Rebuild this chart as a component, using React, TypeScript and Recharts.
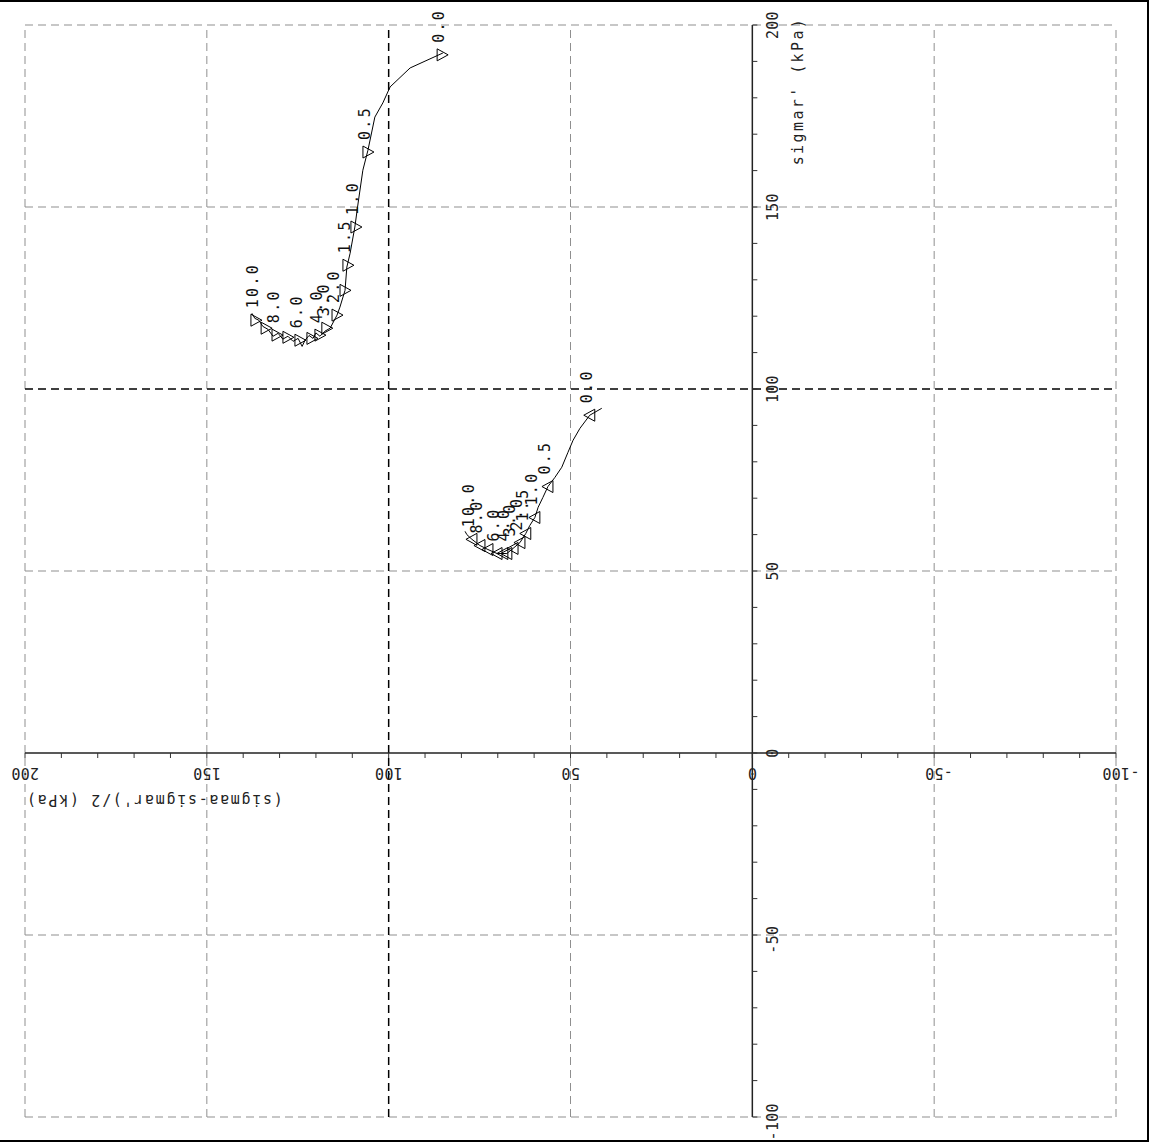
import { ScatterChart, Scatter, XAxis, YAxis, ReferenceLine, ReferenceDot } from 'recharts'

// grid + axis values
const GRID = [200, 150, 50, -50, -100]
const BOLD = [100]
const MINOR = [-100, -90, -80, -70, -60, -50, -40, -30, -20, -10, 0, 10, 20, 30, 40, 50, 60, 70, 80, 90, 100, 110, 120, 130, 140, 150, 160, 170, 180, 190, 200]
const LABELED = [200, 150, 100, 50, 0, -50, -100]

// upper path (triangles pointing right)
const s1X = [85.1, 94.1, 99.6, 101.6, 103.8, 105.7, 107.1, 108.4, 109.3, 110.6, 111.5, 112.0, 113.4, 114.2, 116.1, 117.5, 118.9, 120.0, 120.8, 121.9, 123.0, 123.8, 124.9, 126.3, 127.7, 129.1, 130.4, 131.8, 133.2, 134.6, 135.7, 136.8, 137.6]
const s1Y = [192.3, 188.2, 183.0, 178.6, 174.7, 165.6, 160.1, 151.1, 144.5, 137.3, 133.5, 127.1, 122.5, 120.3, 116.7, 115.9, 114.5, 115.4, 113.9, 114.7, 113.4, 111.7, 113.9, 113.1, 114.5, 113.7, 115.3, 114.5, 116.4, 117.2, 118.9, 119.4, 120.8]
const s1MarkX = [85.3, 105.7, 109.0, 111.2, 112.0, 114.2, 117.0, 118.9, 121.1, 124.4, 127.7, 130.7, 133.7, 136.5]
const s1MarkY = [191.8, 165.1, 144.5, 134.0, 127.1, 120.3, 116.7, 114.8, 113.9, 113.4, 114.2, 114.8, 116.7, 118.9]
const s1Labels = ['0.0', '0.5', '1.0', '1.5', '', '2.0', '3.0', '4.0', '', '6.0', '', '8.0', '', '10.0']

// lower path (triangles pointing left)
const s2X = [41.4, 44.7, 47.4, 49.3, 50.7, 52.4, 54.3, 56.2, 57.6, 58.9, 59.8, 61.2, 62.3, 63.9, 65.8, 67.5, 70.2, 72.7, 74.9, 77.1, 78.5, 79.0]
const s2Y = [94.7, 92.8, 89.2, 85.9, 82.6, 78.5, 75.7, 73.2, 70.2, 67.5, 64.7, 62.5, 60.3, 57.8, 56.2, 54.8, 54.8, 55.9, 57.0, 58.7, 60.0, 60.9]
const s2MarkX = [44.7, 56.2, 59.8, 62.3, 63.9, 65.8, 67.5, 68.6, 70.2, 72.7, 74.9, 77.1]
const s2MarkY = [92.8, 73.2, 64.7, 60.3, 57.8, 56.2, 54.8, 54.8, 54.8, 55.9, 57.0, 58.7]
const s2Labels = ['0.0', '0.5', '1.0', '1.5', '2.0', '3.0', '4.0', '', '6.0', '', '8.0', '10.0']

const FONT = "'DejaVu Sans Mono', monospace"
const FS = 15
const ADV = 9.3

const zip = (xs: number[], ys: number[], labels?: string[]) =>
  xs.map((x, i) => ({ x, y: ys[i], label: labels ? labels[i] : '' }))

const line1 = zip(s1X, s1Y)
const line2 = zip(s2X, s2Y)
const marks1 = zip(s1MarkX, s1MarkY, s1Labels)
const marks2 = zip(s2MarkX, s2MarkY, s2Labels)

function digitsOf(v: number) {
  return String(Math.abs(v)).length
}

function XTickMark({ cx, cy, v }: { cx: number; cy: number; v: number }) {
  const labeled = LABELED.includes(v)
  const w = digitsOf(v) * ADV
  const ax = cx - w / 2
  const ay = cy + 20
  return (
    <g>
      <line x1={cx} y1={cy} x2={cx} y2={cy + 5} stroke="#333" strokeWidth={1} />
      {labeled && (
        <text x={ax} y={ay} transform={`rotate(180 ${ax} ${ay})`} textAnchor="end" dominantBaseline="central"
          fontFamily={FONT} fontSize={FS} letterSpacing={0.3} fill="#222">{String(v)}</text>
      )}
    </g>
  )
}

function YTickMark({ cx, cy, v }: { cx: number; cy: number; v: number }) {
  const labeled = LABELED.includes(v)
  const w = digitsOf(v) * ADV
  const ax = cx + 21
  const ay = cy - w / 2
  return (
    <g>
      <line x1={cx} y1={cy} x2={cx + 5} y2={cy} stroke="#333" strokeWidth={1} />
      {labeled && (
        <text x={ax} y={ay} transform={`rotate(-90 ${ax} ${ay})`} textAnchor="end" dominantBaseline="central"
          fontFamily={FONT} fontSize={FS} letterSpacing={0.3} fill="#222">{String(v)}</text>
      )}
    </g>
  )
}

function Marker({ cx, cy, payload, dir }: any) {
  const d = dir === 'right'
    ? `M${cx - 5},${cy - 6} L${cx + 6},${cy} L${cx - 5},${cy + 6} Z`
    : `M${cx + 5},${cy - 6} L${cx - 6},${cy} L${cx + 5},${cy + 6} Z`
  const ax = cx - 3
  const ay = cy - 12
  return (
    <g>
      <path d={d} fill="none" stroke="#000" strokeWidth={1} />
      {payload.label && (
        <text x={ax} y={ay} transform={`rotate(-90 ${ax} ${ay})`} textAnchor="start" dominantBaseline="central"
          fontFamily={FONT} fontSize={FS} letterSpacing={2.3} fill="#111">{payload.label}</text>
      )}
    </g>
  )
}

export default function App() {
  return (
    <div style={{ position: 'absolute', left: 0, top: 0, width: 1149, height: 1142, boxSizing: 'border-box', borderTop: '2px solid #000', borderRight: '2px solid #000', borderBottom: '2px solid #000', background: '#fff' }}>
      <div style={{ position: 'absolute', left: 0, top: -2 }}>
        <ScatterChart width={1150} height={1142} margin={{ top: 25, left: 25, right: 34, bottom: 25 }}>
          <XAxis type="number" dataKey="x" domain={[-100, 200]} reversed hide />
          <YAxis type="number" dataKey="y" domain={[-100, 200]} hide />

          {GRID.map(v => (
            <ReferenceLine key={`gx${v}`} x={v} stroke="#8f8f8f" strokeDasharray="8 5" strokeWidth={1} />
          ))}
          {GRID.map(v => (
            <ReferenceLine key={`gy${v}`} y={v} stroke="#8f8f8f" strokeDasharray="8 5" strokeWidth={1} />
          ))}
          {BOLD.map(v => (
            <ReferenceLine key={`bx${v}`} x={v} stroke="#000" strokeDasharray="8 5" strokeWidth={1.5} />
          ))}
          {BOLD.map(v => (
            <ReferenceLine key={`by${v}`} y={v} stroke="#000" strokeDasharray="8 5" strokeWidth={1.5} />
          ))}

          {/* axes crossing at the origin */}
          <ReferenceLine x={0} stroke="#222" strokeWidth={1.5} />
          <ReferenceLine y={0} stroke="#222" strokeWidth={1.5} />

          {MINOR.map(v => (
            <ReferenceDot key={`tx${v}`} x={v} y={0} r={0} shape={(p: any) => <XTickMark cx={p.cx} cy={p.cy} v={v} />} />
          ))}
          {MINOR.map(v => (
            <ReferenceDot key={`ty${v}`} x={0} y={v} r={0} shape={(p: any) => <YTickMark cx={p.cx} cy={p.cy} v={v} />} />
          ))}

          {/* axis titles */}
          <ReferenceDot x={200} y={0} r={0} shape={(p: any) => (
            <text x={p.cx + 129} y={p.cy + 47} transform={`rotate(180 ${p.cx + 129} ${p.cy + 47})`} textAnchor="middle"
              dominantBaseline="central" fontFamily={FONT} fontSize={FS} letterSpacing={1.7} fill="#222">
              (sigmaa-sigmar')/2 (kPa)
            </text>
          )} />
          <ReferenceDot x={0} y={200} r={0} shape={(p: any) => (
            <text x={p.cx + 46} y={p.cy + 66} transform={`rotate(-90 ${p.cx + 46} ${p.cy + 66})`} textAnchor="middle"
              dominantBaseline="central" fontFamily={FONT} fontSize={FS} letterSpacing={2.4} fill="#222">
              sigmar' (kPa)
            </text>
          )} />

          <Scatter data={line1} line={{ stroke: '#000', strokeWidth: 1 }} shape={() => <g />} isAnimationActive={false} />
          <Scatter data={line2} line={{ stroke: '#000', strokeWidth: 1 }} shape={() => <g />} isAnimationActive={false} />
          <Scatter data={marks1} shape={(p: any) => <Marker {...p} dir="right" />} isAnimationActive={false} />
          <Scatter data={marks2} shape={(p: any) => <Marker {...p} dir="left" />} isAnimationActive={false} />
        </ScatterChart>
      </div>
    </div>
  )
}
